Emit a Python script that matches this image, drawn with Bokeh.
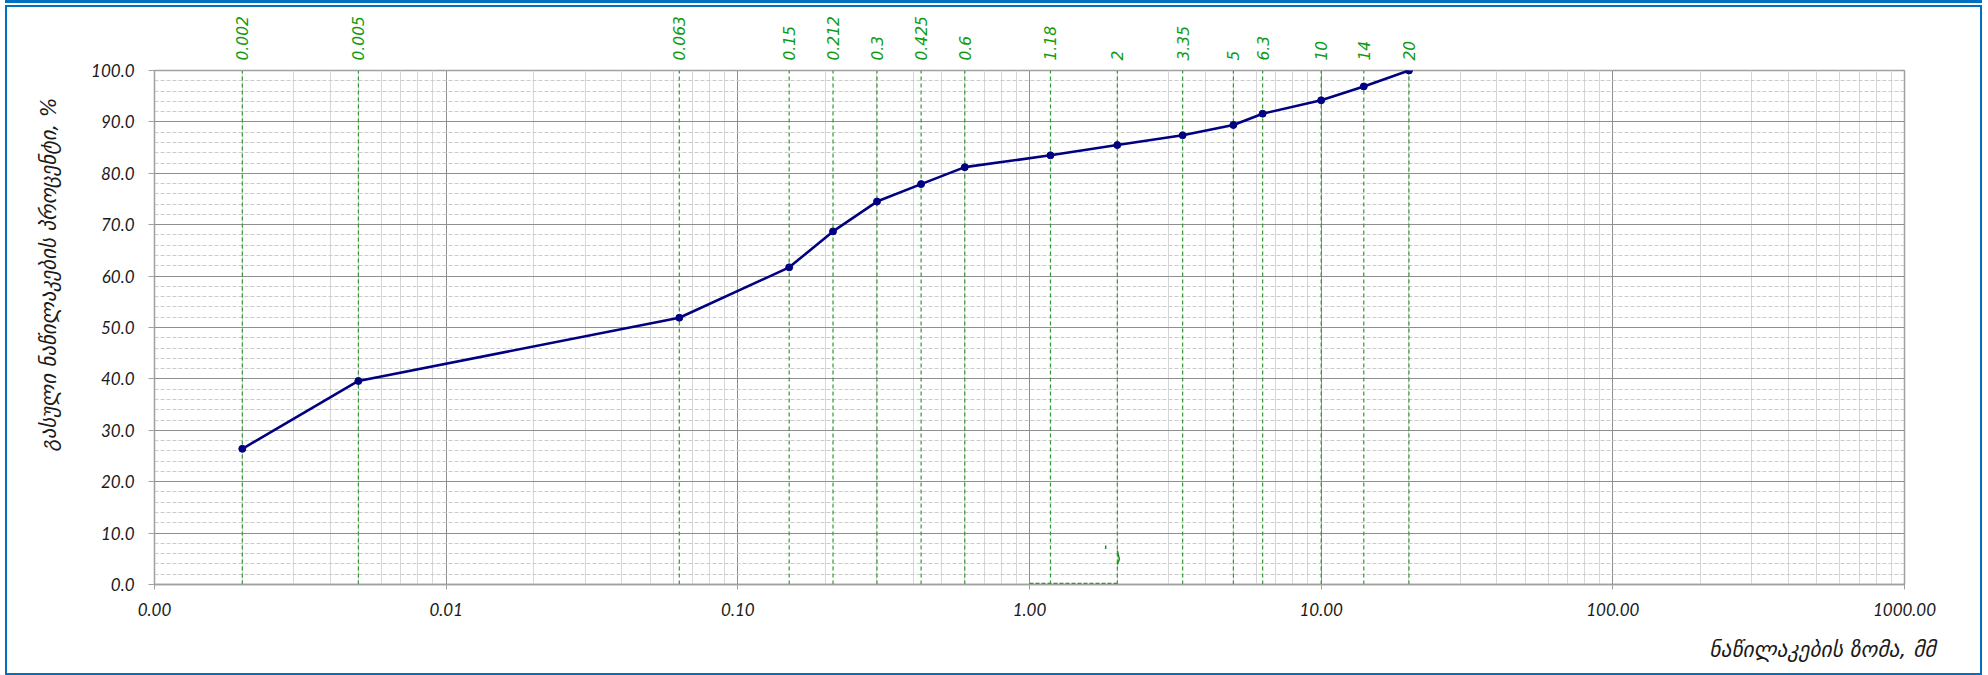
import numpy as np
from bokeh.plotting import figure
from bokeh.models import (Range1d, LogAxis, FixedTicker, LogTicker, SingleIntervalTicker,
                          NumeralTickFormatter, CustomJSTickFormatter, Title)
from bokeh.embed import file_html
from bokeh.resources import INLINE

# ---------------- data ----------------
sieve_sizes = [0.002, 0.005, 0.063, 0.15, 0.212, 0.3, 0.425, 0.6, 1.18, 2, 3.35, 5, 6.3, 10, 14, 20]
sieve_labels = ["0.002", "0.005", "0.063", "0.15", "0.212", "0.3", "0.425", "0.6",
                "1.18", "2", "3.35", "5", "6.3", "10", "14", "20"]
passing_pct = [26.4, 39.6, 51.9, 61.7, 68.7, 74.5, 77.9, 81.2, 83.5, 85.5, 87.4, 89.4, 91.6, 94.2, 96.9, 100.0]
# stray green strokes visible in the original near the bottom (between 1 and 2 mm)
artifact_x = [1.0, 2.0]
artifact_y = [0.15, 0.15]
stroke1_x = [1.825, 1.825]
stroke1_y = [6.9, 7.6]
stroke2_x = [2.001, 2.033, 2.001]
stroke2_y = [6.6, 4.9, 3.9]
x_min, x_max = 0.001, 1000
y_min, y_max = 0, 100
y_title = "გასული ნაწილაკების პროცენტი, %"
x_title = "ნაწილაკების ზომა,  მმ"

GREEN_LINE = "#2f9a2f"
GREEN_TEXT = "#119a11"
NAVY = "#000080"
BLUE = "#0070C0"
TICK_FONT = "Lato"

W, H = 1977, 670
p = figure(width=W, height=H, x_axis_type="log",
           x_range=Range1d(x_min, x_max), y_range=Range1d(y_min, y_max),
           output_backend="svg", toolbar_location=None,
           min_border_left=142, min_border_right=80, min_border_top=63, min_border_bottom=92,
           background_fill_color="white", border_fill_color="white")
p.outline_line_color = "#a0a0a0"
p.outline_line_width = 1.5
p.styles = {"border": "2.5px solid " + BLUE, "box-sizing": "border-box",
            "margin-left": "5px", "margin-top": "5px", "overflow": "hidden",
            "box-shadow": "0 -2px 0 0 white, 0 -5px 0 0 " + BLUE}

# bottom log axis
xt = LogTicker(num_minor_ticks=10)
p.xaxis.ticker = xt
p.xaxis.formatter = NumeralTickFormatter(format="0.00")
p.xaxis.axis_line_color = "#a0a0a0"
p.xaxis.axis_line_width = 1.5
p.xaxis.major_tick_line_color = "#a0a0a0"
p.xaxis.major_tick_out = 5
p.xaxis.major_tick_in = 0
p.xaxis.minor_tick_line_color = None
p.xaxis.major_label_standoff = 13
p.xaxis.major_label_text_font = TICK_FONT
p.xaxis.major_label_text_font_style = "italic"
p.xaxis.major_label_text_font_size = "17px"
p.xaxis.major_label_text_color = "#1a1a1a"

# left axis
yt = SingleIntervalTicker(interval=10, num_minor_ticks=5)
p.yaxis.ticker = yt
p.yaxis.formatter = NumeralTickFormatter(format="0.0")
p.yaxis.axis_line_color = "#a0a0a0"
p.yaxis.major_tick_line_color = "#a0a0a0"
p.yaxis.major_tick_out = 6
p.yaxis.major_tick_in = 0
p.yaxis.minor_tick_line_color = None
p.yaxis.major_label_standoff = 14
p.yaxis.major_label_text_font = TICK_FONT
p.yaxis.major_label_text_font_style = "italic"
p.yaxis.major_label_text_font_size = "17px"
p.yaxis.major_label_text_color = "#1a1a1a"

# grids
p.xgrid.ticker = xt
p.xgrid.grid_line_color = "#8f8f8f"
p.xgrid.grid_line_width = 1
p.xgrid.minor_grid_line_color = "#d6d6d6"
p.xgrid.minor_grid_line_width = 1
p.ygrid.ticker = yt
p.ygrid.grid_line_color = "#8f8f8f"
p.ygrid.grid_line_width = 1
p.ygrid.minor_grid_line_color = "#cbcbcb"
p.ygrid.minor_grid_line_dash = "4 2"
p.ygrid.minor_grid_line_width = 1

# top axis with sieve sizes
top = LogAxis(ticker=FixedTicker(ticks=sieve_sizes),
              formatter=CustomJSTickFormatter(args=dict(vals=sieve_sizes, labs=sieve_labels),
                                              code="const i = vals.indexOf(tick); return i >= 0 ? labs[i] : String(tick);"))
top.axis_line_color = None
top.major_tick_line_color = None
top.major_tick_out = 0
top.major_tick_in = 0
top.minor_tick_line_color = None
top.major_label_orientation = "vertical"
top.major_label_standoff = 10
top.major_label_text_color = GREEN_TEXT
top.major_label_text_font = "DejaVu Sans"
top.major_label_text_font_style = "italic"
top.major_label_text_font_size = "15.5px"
p.add_layout(top, "above")

# green dashed sieve lines
p.segment(x0=sieve_sizes, y0=y_min, x1=sieve_sizes, y1=y_max,
          line_color=GREEN_LINE, line_dash="4 3", line_width=1.2)
p.line(artifact_x, artifact_y, line_color="#1f8f1f", line_dash="4 2", line_width=2)
p.line(stroke1_x, stroke1_y, line_color="#1f8f1f", line_width=1.5)
p.line(stroke2_x, stroke2_y, line_color="#1f8f1f", line_width=1.5)

# grading curve
p.line(sieve_sizes, passing_pct, line_color=NAVY, line_width=2.6)
p.scatter(sieve_sizes, passing_pct, marker="circle", size=7, fill_color=NAVY, line_color=NAVY)

# axis titles
p.add_layout(Title(text=y_title, align="right", offset=27, standoff=55,
                   text_font="DejaVu Sans", text_font_style="italic", text_font_size="20.8px",
                   text_color="#1a1a1a"), "left")
p.add_layout(Title(text=x_title, align="right", offset=-38, standoff=32,
                   text_font="DejaVu Sans", text_font_style="italic", text_font_size="21.5px",
                   text_color="#1a1a1a"), "below")

open("out.html", "w").write(file_html(p, INLINE))
